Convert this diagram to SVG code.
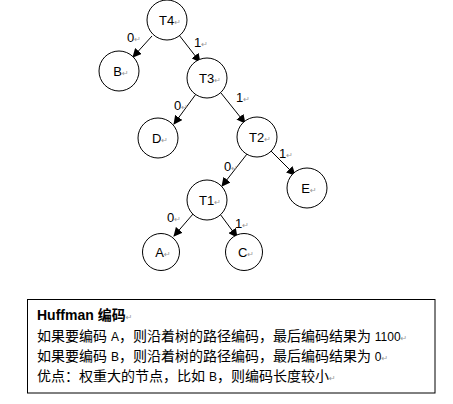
<svg xmlns="http://www.w3.org/2000/svg" width="453" height="404" viewBox="0 0 453 404">
<style>
.node circle{fill:#fff;stroke:#000;stroke-width:1}
.nl{font-family:"Liberation Sans",Arial,sans-serif;font-size:13px;fill:#000;text-anchor:middle}
.el{font-family:"Liberation Sans",Arial,sans-serif;font-size:13px;fill:#000}
.rm{font-family:"DejaVu Sans",sans-serif;font-size:8px;fill:#999}
.edge{stroke:#000;stroke-width:1;fill:none;marker-end:url(#ah)}
.tx{font-family:"Liberation Sans","Noto Sans CJK SC",sans-serif;font-size:14px;fill:#000}
</style>
<defs>
<marker id="ah" viewBox="0 0 10 10" refX="9" refY="5" markerWidth="9" markerHeight="9" markerUnits="userSpaceOnUse" orient="auto">
<path d="M0,0 L10,5 L0,10 Z" fill="#000"/>
</marker>
</defs>
<rect width="453" height="404" fill="#fff"/>
<g id="connectors">
<line class="edge" x1="152" y1="36" x2="133" y2="57"/>
<line class="edge" x1="179" y1="35" x2="200" y2="62"/>
<line class="edge" x1="196" y1="94" x2="174" y2="124"/>
<line class="edge" x1="221" y1="93" x2="245" y2="123"/>
<line class="edge" x1="271" y1="151" x2="295" y2="175"/>
<line class="edge" x1="247" y1="154" x2="222" y2="186"/>
<line class="edge" x1="193" y1="214" x2="174" y2="236"/>
<line class="edge" x1="220" y1="214" x2="237" y2="237"/>
<text class="el" x="127" y="42">0<tspan class="rm">↵</tspan></text>
<text class="el" x="194" y="47">1<tspan class="rm">↵</tspan></text>
<text class="el" x="174" y="110">0<tspan class="rm">↵</tspan></text>
<text class="el" x="236" y="102">1<tspan class="rm">↵</tspan></text>
<text class="el" x="224" y="171">0<tspan class="rm">↵</tspan></text>
<text class="el" x="279" y="158">1<tspan class="rm">↵</tspan></text>
<text class="el" x="167" y="222">0<tspan class="rm">↵</tspan></text>
<text class="el" x="235" y="228">1<tspan class="rm">↵</tspan></text>
</g>
<g id="T4" class="node"><circle cx="167" cy="20" r="20"/><text class="nl" x="170" y="25">T4<tspan class="rm">↵</tspan></text></g>
<g id="B" class="node"><circle cx="119" cy="71" r="20"/><text class="nl" x="121" y="76">B<tspan class="rm">↵</tspan></text></g>
<g id="T3" class="node"><circle cx="207" cy="78" r="20"/><text class="nl" x="210" y="83">T3<tspan class="rm">↵</tspan></text></g>
<g id="D" class="node"><circle cx="158" cy="138" r="20"/><text class="nl" x="160" y="143">D<tspan class="rm">↵</tspan></text></g>
<g id="T2" class="node"><circle cx="257" cy="137" r="20"/><text class="nl" x="260" y="142">T2<tspan class="rm">↵</tspan></text></g>
<g id="E" class="node"><circle cx="307" cy="188" r="20"/><text class="nl" x="309" y="193">E<tspan class="rm">↵</tspan></text></g>
<g id="T1" class="node"><circle cx="207" cy="200" r="20"/><text class="nl" x="210" y="205">T1<tspan class="rm">↵</tspan></text></g>
<g id="A" class="node"><circle cx="161" cy="252" r="18.5"/><text class="nl" x="163" y="257">A<tspan class="rm">↵</tspan></text></g>
<g id="C" class="node"><circle cx="244" cy="252" r="18.5"/><text class="nl" x="246" y="257">C<tspan class="rm">↵</tspan></text></g>
<g id="note">
<rect x="27.5" y="299.5" width="407.5" height="93.5" fill="#fff" stroke="#000" stroke-width="1"/>
<text class="tx" x="37" y="320" font-weight="bold" font-size="13px">Huffman 编码<tspan class="rm" font-weight="normal">↵</tspan></text>
<text class="tx" x="37" y="341">如果要编码 <tspan font-size="12px">A</tspan>，则沿着树的路径编码，最后编码结果为 <tspan font-size="12px">1100</tspan><tspan class="rm">↵</tspan></text>
<text class="tx" x="37" y="361">如果要编码 <tspan font-size="12px">B</tspan>，则沿着树的路径编码，最后编码结果为 <tspan font-size="12px">0</tspan><tspan class="rm">↵</tspan></text>
<text class="tx" x="37" y="381">优点：权重大的节点，比如 <tspan font-size="12px">B</tspan>，则编码长度较小<tspan class="rm">↵</tspan></text>
</g>
</svg>
